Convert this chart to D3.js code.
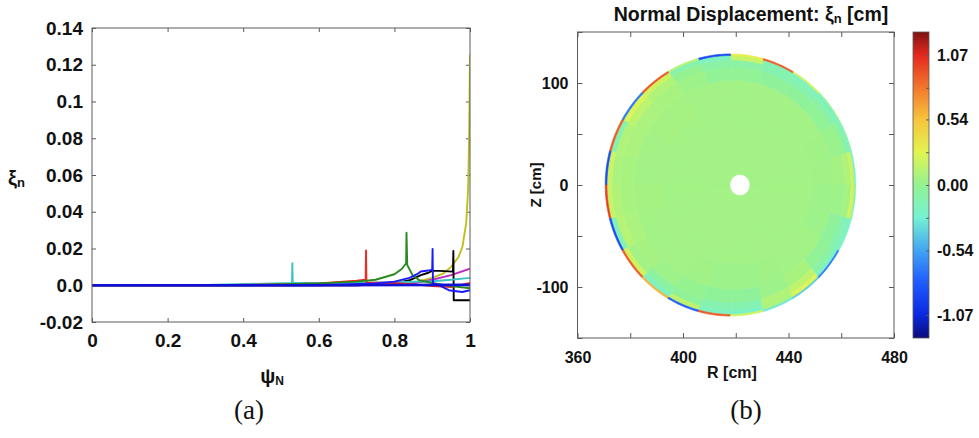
<!DOCTYPE html>
<html>
<head>
<meta charset="utf-8">
<script src="https://cdn.jsdelivr.net/npm/d3@7"></script>
<style>
body { margin: 0; background: #fff; }
svg { display: block; font-family: "Liberation Sans", Arial, sans-serif; }
</style>
</head>
<body>
<div id="chart"></div>
<script>
// ---------- panel (a): xi_n vs psi_N ----------
const psiTicks = [0, 0.2, 0.4, 0.6, 0.8, 1]
const psiTickLabels = ["0", "0.2", "0.4", "0.6", "0.8", "1"]
const xiTicks = [-0.02, 0, 0.02, 0.04, 0.06, 0.08, 0.1, 0.12, 0.14]
const xiTickLabels = ["-0.02", "0.0", "0.02", "0.04", "0.06", "0.08", "0.1", "0.12", "0.14"]

// one array of [psi, xi] per mode
const yellowLine = [[0, 0], [0.5, 0], [0.7, 0.0004], [0.8, 0.001], [0.86, 0.002], [0.9, 0.004], [0.93, 0.0065],
  [0.95, 0.010], [0.97, 0.0155], [0.98, 0.021], [0.99, 0.034], [0.995, 0.052], [0.998, 0.085], [1, 0.1256]]
const magentaLine = [[0, 0], [0.7, 0], [0.8, 0.0005], [0.85, 0.001], [0.9, 0.003], [0.95, 0.0055], [1, 0.009]]
const blackLine = [[0, 0], [0.7, 0], [0.8, 0.001], [0.84, 0.0027], [0.87, 0.0055], [0.89, 0.0068], [0.9, 0.0078],
  [0.92, 0.0078], [0.955, 0.0074], [0.956, 0.0186], [0.957, -0.0082], [1, -0.0082]]
const cyanLine = [[0, 0], [0.3, 0.0002], [0.529, 0.0012], [0.53, 0.012], [0.531, 0.0012], [0.7, 0.0013],
  [0.8, 0.0016], [0.9, 0.0022], [0.95, 0.003], [1, 0.004]]
const redLine = [[0, 0], [0.3, 0], [0.5, 0.0004], [0.6, 0.001], [0.7, 0.0025], [0.724, 0.003], [0.725, 0.019],
  [0.726, 0.0015], [0.8, 0.0012], [0.85, 0.0005], [0.9, -0.0005], [0.95, -0.001], [1, 0.0012]]
const greenLine = [[0, 0], [0.4, 0], [0.6, 0.001], [0.7, 0.002], [0.75, 0.003], [0.8, 0.006], [0.82, 0.009],
  [0.831, 0.012], [0.832, 0.0286], [0.834, 0.011], [0.848, 0.0055], [0.866, 0.0027], [0.9, 0.0012],
  [0.95, -0.0005], [1, -0.0016]]
const blueLine = [[0, 0], [0.6, 0], [0.75, 0.001], [0.8, 0.002], [0.84, 0.004], [0.86, 0.006], [0.87, 0.0075],
  [0.89, 0.008], [0.9, 0.0085], [0.901, 0.0197], [0.902, 0.001], [0.918, 0], [0.944, -0.0027],
  [0.979, -0.0037], [1, -0.0027]]
const baseLine = [[0, 0], [0.5, 0], [1, 0.0002]]

const modeLines = [yellowLine, magentaLine, blackLine, cyanLine, redLine, greenLine, blueLine, baseLine]
const modeColors = ["#bfbf1c", "#bf2bbf", "#000000", "#3cc4c4", "#f02a1c", "#2a8a22", "#1a1aff", "#1010d8"]

// ---------- panel (b): xi_n on the poloidal plane ----------
const rTicks = [360, 380, 400, 420, 440, 460, 480]
const rTickLabels = ["360", "", "400", "", "440", "", "480"]
const zTicks = [-150, -100, -50, 0, 50, 100, 150]
const zTickLabels = ["", "-100", "", "0", "", "100", ""]
const cbTicks = [-1.07, -0.8, -0.54, -0.27, 0, 0.27, 0.54, 0.8, 1.07]
const cbTickLabels = ["-1.07", "", "-0.54", "", "0.00", "", "0.54", "", "1.07"]

// jet-like colour map
const cmapStops = [-1.26, -1.07, -0.8, -0.54, -0.27, 0, 0.27, 0.54, 0.8, 1.07, 1.26]
const cmapColors = ["#0c0c7a", "#0a28e0", "#1f5cff", "#42a4f2", "#74f2d4", "#94f291", "#e2f450",
  "#f8c43c", "#f2782c", "#e4281e", "#7e1212"]

// flux-surface grid: normalised radius edges, 24 poloidal sectors of 15 deg
const rhoEdges = [0.08, 0.6, 0.8, 0.9, 0.955, 0.988, 1.0]
const ring0 = [0.05, 0.05, 0.05, 0.05, 0.05, 0.05, 0.05, 0.05, 0.05, 0.05, 0.05, 0.05,
  0.05, 0.05, 0.05, 0.05, 0.05, 0.05, 0.05, 0.05, 0.05, 0.05, 0.05, 0.05]
const ring1 = [0.04, 0.04, 0.05, 0.05, 0.05, 0.05, 0.05, 0.05, 0.06, 0.06, 0.05, 0.05,
  0.06, 0.05, 0.05, 0.05, 0.04, 0.03, 0.03, 0.04, 0.05, 0.05, 0.03, 0.03]
const ring2 = [0.06, 0.02, -0.02, -0.04, -0.04, -0.02, -0.02, 0.03, 0.07, 0.08, 0.08, 0.07,
  0.07, 0.08, 0.06, 0.03, 0.0, -0.03, -0.04, 0.03, 0.07, -0.02, -0.04, 0.03]
const ring3 = [0.1, 0.0, -0.08, -0.12, -0.12, -0.08, -0.08, 0.0, 0.1, 0.14, 0.1, 0.08,
  0.1, 0.12, 0.05, -0.06, -0.03, -0.12, -0.12, 0.1, 0.15, -0.08, -0.12, 0.06]
const ring4 = [0.18, -0.15, -0.2, -0.18, -0.15, 0.18, -0.18, -0.12, 0.2, 0.25, -0.12, 0.2,
  0.18, -0.15, 0.2, -0.2, 0.15, -0.18, -0.2, 0.08, 0.25, -0.2, -0.18, 0.2]
const ring5 = [-0.2, -0.1, 0.0, 0.2, 0.9, 0.3, -0.9, 0.1, 0.9, -0.7, 0.9, -0.9,
  1.0, -0.9, 0.9, 0.6, -0.8, 0.9, 0.2, -0.3, -0.4, -0.7, -0.2, -0.1]
const ringValues = [ring0, ring1, ring2, ring3, ring4, ring5]

// plasma shape [cm]
const axisR = 421.6, edgeR = 418.0, halfWidth = 47.5, halfHeight = 128.5

const W = 979, H = 438
const svg = d3.select("#chart").append("svg").attr("width", W).attr("height", H)

const axisColor = "#5a5a5a"

function styleAxis(g, size) {
  g.select(".domain").remove()
  g.attr("font-family", null).attr("font-size", size).attr("font-weight", "bold")
  g.selectAll(".tick line").attr("stroke", axisColor)
  g.selectAll(".tick text").attr("fill", "#111")
}

// ===== panel (a) =====
const xL = d3.scaleLinear().domain([0, 1]).range([92, 470])
const yL = d3.scaleLinear().domain([-0.02, 0.14]).range([322, 28])

const left = svg.append("g")

left.append("g")
  .attr("transform", "translate(0,322)")
  .call(d3.axisBottom(xL).tickValues(psiTicks).tickFormat((d, i) => psiTickLabels[i])
    .tickSizeInner(-4).tickSizeOuter(0).tickPadding(12))
  .call(g => styleAxis(g, 19))
left.append("g")
  .attr("transform", "translate(92,0)")
  .call(d3.axisLeft(yL).tickValues(xiTicks).tickFormat((d, i) => xiTickLabels[i])
    .tickSizeInner(-4).tickSizeOuter(0).tickPadding(9))
  .call(g => styleAxis(g, 19))
left.append("g")
  .attr("transform", "translate(0,28)")
  .call(d3.axisTop(xL).tickValues(psiTicks).tickFormat("").tickSizeInner(-4).tickSizeOuter(0))
  .call(g => styleAxis(g, 10))
left.append("g")
  .attr("transform", "translate(470,0)")
  .call(d3.axisRight(yL).tickValues(xiTicks).tickFormat("").tickSizeInner(-4).tickSizeOuter(0))
  .call(g => styleAxis(g, 10))

const clipL = svg.append("clipPath").attr("id", "clipL")
clipL.append("rect").attr("x", xL(0)).attr("y", yL(0.14)).attr("width", xL(1) - xL(0)).attr("height", yL(-0.02) - yL(0.14))

const lineL = d3.line().x(d => xL(d[0])).y(d => yL(d[1]))
left.append("g").attr("clip-path", "url(#clipL)")
  .selectAll("path")
  .data(modeLines)
  .enter()
  .append("path")
  .attr("d", lineL)
  .attr("fill", "none")
  .attr("stroke", (d, i) => modeColors[i])
  .attr("stroke-width", (d, i) => i === modeLines.length - 1 ? 2.6 : 1.9)
  .attr("stroke-linejoin", "round")

left.append("rect")
  .attr("x", xL(0)).attr("y", yL(0.14))
  .attr("width", xL(1) - xL(0)).attr("height", yL(-0.02) - yL(0.14))
  .attr("fill", "none").attr("stroke", axisColor).attr("stroke-width", 1)

const xLab = left.append("text").attr("x", 272).attr("y", 383).attr("text-anchor", "middle")
  .attr("font-weight", "bold").attr("font-size", 20).attr("fill", "#111")
xLab.append("tspan").text("ψ")
xLab.append("tspan").attr("font-size", 12).attr("dy", 2).text("N")

const yLab = left.append("text").attr("x", 8).attr("y", 185)
  .attr("font-weight", "bold").attr("font-size", 20).attr("fill", "#111")
yLab.append("tspan").text("ξ")
yLab.append("tspan").attr("font-size", 13).attr("dy", 2).text("n")

// ===== panel (b) =====
const xR = d3.scaleLinear().domain([360, 480]).range([577.5, 894])
const yR = d3.scaleLinear().domain([-150, 150]).range([338, 32])
const color = d3.scaleLinear().domain(cmapStops).range(cmapColors).clamp(true)

const right = svg.append("g")

// flux-surface cells
function surfacePoint(rho, th) {
  const rc = axisR + (edgeR - axisR) * rho * rho
  return [rc + halfWidth * rho * Math.cos(th), halfHeight * rho * Math.sin(th)]
}
const cells = []
const nSect = ring0.length
ringValues.forEach((vals, i) => {
  vals.forEach((v, j) => {
    const r0 = rhoEdges[i], r1 = rhoEdges[i + 1]
    const t0 = j * 2 * Math.PI / nSect, t1 = (j + 1) * 2 * Math.PI / nSect
    const pts = []
    for (let k = 0; k <= 8; k++) pts.push(surfacePoint(r1, t0 + (t1 - t0) * k / 8))
    for (let k = 8; k >= 0; k--) pts.push(surfacePoint(r0, t0 + (t1 - t0) * k / 8))
    cells.push({pts: pts, value: v})
  })
})

const cellLine = d3.line().x(d => xR(d[0])).y(d => yR(d[1])).curve(d3.curveLinearClosed)
right.append("g")
  .selectAll("path")
  .data(cells)
  .enter()
  .append("path")
  .attr("d", d => cellLine(d.pts))
  .attr("fill", d => color(d.value))
  .attr("stroke", d => color(d.value))
  .attr("stroke-width", 0.6)

right.append("g")
  .attr("transform", "translate(0,338)")
  .call(d3.axisBottom(xR).tickValues(rTicks).tickFormat((d, i) => rTickLabels[i])
    .tickSizeInner(-5).tickSizeOuter(0).tickPadding(14))
  .call(g => styleAxis(g, 16))
right.append("g")
  .attr("transform", "translate(577.5,0)")
  .call(d3.axisLeft(yR).tickValues(zTicks).tickFormat((d, i) => zTickLabels[i])
    .tickSizeInner(-5).tickSizeOuter(0).tickPadding(9))
  .call(g => styleAxis(g, 16))
right.append("g")
  .attr("transform", "translate(0,32)")
  .call(d3.axisTop(xR).tickValues(rTicks).tickFormat("").tickSizeInner(-5).tickSizeOuter(0))
  .call(g => styleAxis(g, 10))
right.append("g")
  .attr("transform", "translate(894,0)")
  .call(d3.axisRight(yR).tickValues(zTicks).tickFormat("").tickSizeInner(-5).tickSizeOuter(0))
  .call(g => styleAxis(g, 10))

right.append("rect")
  .attr("x", xR(360)).attr("y", yR(150))
  .attr("width", xR(480) - xR(360)).attr("height", yR(-150) - yR(150))
  .attr("fill", "none").attr("stroke", axisColor).attr("stroke-width", 1)

right.append("text").attr("x", 732).attr("y", 378).attr("text-anchor", "middle")
  .attr("font-weight", "bold").attr("font-size", 16).attr("fill", "#111").text("R [cm]")
right.append("text").attr("transform", "translate(541,185) rotate(-90)").attr("text-anchor", "middle")
  .attr("font-weight", "bold").attr("font-size", 15).attr("fill", "#111").text("Z [cm]")

const title = right.append("text").attr("x", 751).attr("y", 21).attr("text-anchor", "middle")
  .attr("font-weight", "bold").attr("font-size", 19.5).attr("fill", "#111")
title.append("tspan").text("Normal Displacement: ξ")
title.append("tspan").attr("font-size", 13).attr("dy", 2).text("n")
title.append("tspan").attr("dy", -2).text(" [cm]")

// colour bar
const yC = d3.scaleLinear().domain([-1.26, 1.26]).range([338, 32])
const grad = svg.append("defs").append("linearGradient").attr("id", "cbGrad")
  .attr("x1", 0).attr("y1", 1).attr("x2", 0).attr("y2", 0)
grad.selectAll("stop")
  .data(cmapStops)
  .enter()
  .append("stop")
  .attr("offset", d => (d - cmapStops[0]) / (cmapStops[cmapStops.length - 1] - cmapStops[0]))
  .attr("stop-color", (d, i) => cmapColors[i])

right.append("rect")
  .attr("x", 913).attr("y", yC(1.26)).attr("width", 16).attr("height", yC(-1.26) - yC(1.26))
  .attr("fill", "url(#cbGrad)").attr("stroke", axisColor).attr("stroke-width", 0.8)
right.append("g")
  .attr("transform", "translate(929,0)")
  .call(d3.axisRight(yC).tickValues(cbTicks).tickFormat((d, i) => cbTickLabels[i])
    .tickSizeInner(-3).tickSizeOuter(0).tickPadding(8))
  .call(g => styleAxis(g, 16))

// captions
svg.append("text").attr("x", 249).attr("y", 419).attr("text-anchor", "middle")
  .attr("font-family", "'Liberation Serif', 'DejaVu Serif', serif").attr("font-size", 27).attr("fill", "#111").text("(a)")
svg.append("text").attr("x", 746).attr("y", 419).attr("text-anchor", "middle")
  .attr("font-family", "'Liberation Serif', 'DejaVu Serif', serif").attr("font-size", 27).attr("fill", "#111").text("(b)")
</script>
</body>
</html>
